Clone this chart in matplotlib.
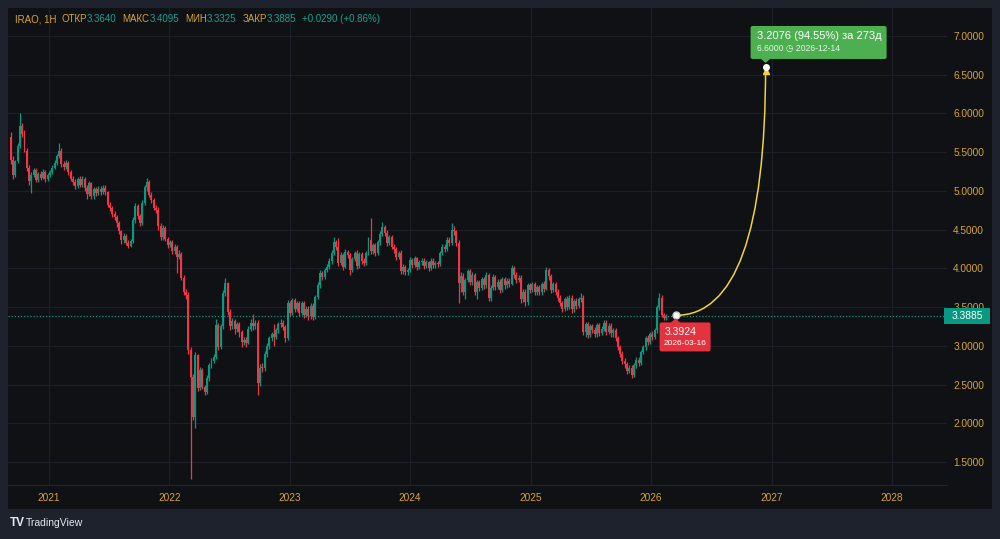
import numpy as np
import pandas as pd
import matplotlib
matplotlib.use("Agg")
import matplotlib.pyplot as plt
import matplotlib.dates as mdates
import matplotlib.transforms as mtransforms
from matplotlib.patches import Rectangle, Polygon, PathPatch, FancyBboxPatch
from matplotlib.path import Path

plt.rcParams['font.family'] = ['Liberation Sans', 'DejaVu Sans']

# ---------------- data ----------------
ticker = "IRAO, 1H"
first_week = "2020-09-07"
first_open = 5.70
closes = [
    5.40, 5.20, 5.38, 5.58, 5.84, 5.74, 5.52, 5.30, 5.13, 5.21,
    5.27, 5.14, 5.22, 5.17, 5.25, 5.15, 5.20, 5.24, 5.30, 5.36,
    5.45, 5.52, 5.35, 5.31, 5.36, 5.24, 5.16, 5.12, 5.06, 5.15,
    5.08, 5.16, 5.04, 4.96, 5.10, 4.93, 5.02, 4.97, 5.03, 4.98,
    5.04, 4.98, 4.82, 4.78, 4.70, 4.66, 4.58, 4.48, 4.36, 4.42,
    4.33, 4.29, 4.35, 4.62, 4.80, 4.68, 4.58, 4.85, 5.05, 5.12,
    4.95, 4.88, 4.78, 4.76, 4.55, 4.40, 4.52, 4.38, 4.30, 4.34,
    4.22, 4.28, 4.15, 4.18, 3.88, 3.70, 3.66, 2.95, 2.60, 2.08,
    2.88, 2.45, 2.69, 2.47, 2.40, 2.58, 2.75, 2.80, 2.86, 3.27,
    2.98, 3.25, 3.68, 3.81, 3.44, 3.26, 3.32, 3.22, 3.28, 3.18,
    3.05, 3.08, 3.04, 3.22, 3.30, 3.25, 3.30, 2.52, 2.72, 2.71,
    2.90, 3.00, 3.10, 3.15, 3.12, 3.20, 3.28, 3.30, 3.24, 3.10,
    3.55, 3.42, 3.59, 3.48, 3.55, 3.43, 3.55, 3.40, 3.48, 3.38,
    3.52, 3.37, 3.63, 3.78, 3.94, 3.89, 3.98, 4.02, 4.10, 4.20,
    4.34, 4.28, 4.07, 4.17, 4.02, 4.21, 4.17, 3.98, 4.12, 4.20,
    4.03, 4.18, 4.10, 4.07, 4.20, 4.37, 4.22, 4.30, 4.20, 4.34,
    4.45, 4.53, 4.46, 4.33, 4.40, 4.28, 4.25, 4.15, 4.20, 3.97,
    4.02, 3.95, 3.98, 4.11, 4.05, 4.13, 4.02, 4.08, 4.10, 4.03,
    4.08, 4.00, 4.10, 4.04, 4.07, 4.06, 4.20, 4.28, 4.25, 4.37,
    4.33, 4.50, 4.48, 4.33, 3.81, 3.90, 3.70, 3.85, 3.96, 3.83,
    3.92, 3.70, 3.82, 3.75, 3.86, 3.78, 3.92, 3.62, 3.75, 3.89,
    3.76, 3.83, 3.72, 3.86, 3.78, 3.84, 3.80, 4.00, 3.92, 3.85,
    3.88, 3.60, 3.70, 3.56, 3.78, 3.72, 3.80, 3.69, 3.76, 3.70,
    3.80, 3.74, 3.98, 3.90, 3.72, 3.80, 3.70, 3.62, 3.55, 3.48,
    3.60, 3.50, 3.62, 3.47, 3.58, 3.52, 3.60, 3.62, 3.18, 3.28,
    3.14, 3.25, 3.20, 3.15, 3.27, 3.17, 3.22, 3.30, 3.18, 3.26,
    3.16, 3.20, 3.10, 2.98, 2.90, 2.80, 2.76, 2.68, 2.72, 2.62,
    2.75, 2.82, 2.78, 2.92, 2.98, 3.10, 3.05, 3.15, 3.12, 3.20,
    3.50, 3.62, 3.40, 3.364, 3.3885]
highs = [
    5.76, 5.45, 5.40, 5.62, 6.00, 5.88, 5.78, 5.55, 5.33, 5.24,
    5.30, 5.29, 5.25, 5.26, 5.28, 5.27, 5.23, 5.27, 5.33, 5.40,
    5.48, 5.62, 5.56, 5.39, 5.40, 5.38, 5.27, 5.19, 5.15, 5.18,
    5.19, 5.19, 5.18, 5.07, 5.13, 5.12, 5.05, 5.05, 5.06, 5.06,
    5.07, 5.07, 5.00, 4.86, 4.80, 4.74, 4.69, 4.61, 4.50, 4.46,
    4.45, 4.37, 4.38, 4.66, 4.85, 4.83, 4.70, 4.88, 5.08, 5.17,
    5.14, 4.99, 4.91, 4.82, 4.79, 4.58, 4.56, 4.55, 4.41, 4.37,
    4.37, 4.31, 4.30, 4.24, 4.21, 3.92, 3.74, 3.69, 2.99, 2.64,
    2.92, 2.90, 2.73, 2.72, 2.50, 2.62, 2.78, 2.84, 2.90, 3.35,
    3.30, 3.28, 3.72, 3.88, 3.83, 3.48, 3.36, 3.35, 3.31, 3.31,
    3.21, 3.12, 3.11, 3.26, 3.34, 3.41, 3.33, 3.33, 2.76, 2.78,
    2.93, 3.04, 3.13, 3.18, 3.28, 3.23, 3.31, 3.35, 3.33, 3.27,
    3.59, 3.58, 3.62, 3.62, 3.58, 3.58, 3.58, 3.58, 3.52, 3.51,
    3.55, 3.55, 3.66, 3.82, 3.98, 3.97, 4.01, 4.06, 4.13, 4.24,
    4.40, 4.37, 4.39, 4.21, 4.20, 4.25, 4.24, 4.20, 4.15, 4.23,
    4.24, 4.21, 4.21, 4.14, 4.23, 4.40, 4.65, 4.33, 4.33, 4.37,
    4.48, 4.60, 4.56, 4.49, 4.43, 4.43, 4.32, 4.28, 4.23, 4.24,
    4.06, 4.05, 4.01, 4.15, 4.14, 4.16, 4.15, 4.11, 4.14, 4.13,
    4.11, 4.10, 4.13, 4.13, 4.10, 4.10, 4.23, 4.31, 4.31, 4.40,
    4.40, 4.58, 4.55, 4.50, 4.36, 3.95, 3.94, 3.88, 3.99, 3.99,
    3.95, 3.94, 3.85, 3.85, 3.89, 3.89, 3.95, 3.94, 3.78, 3.93,
    3.92, 3.86, 3.86, 3.89, 3.89, 3.87, 3.88, 4.04, 4.03, 3.95,
    3.91, 3.92, 3.74, 3.73, 3.81, 3.81, 3.83, 3.83, 3.79, 3.79,
    3.83, 3.84, 4.02, 4.00, 3.93, 3.83, 3.83, 3.73, 3.65, 3.58,
    3.63, 3.64, 3.65, 3.65, 3.61, 3.62, 3.63, 3.68, 3.65, 3.31,
    3.31, 3.28, 3.28, 3.24, 3.30, 3.30, 3.25, 3.33, 3.33, 3.29,
    3.29, 3.23, 3.23, 3.13, 3.01, 2.93, 2.84, 2.79, 2.75, 2.75,
    2.78, 2.86, 2.86, 2.95, 3.01, 3.13, 3.14, 3.18, 3.19, 3.23,
    3.53, 3.68, 3.65, 3.43, 3.4095]
lows = [
    5.35, 5.16, 5.18, 5.36, 5.55, 5.70, 5.50, 5.26, 5.08, 4.97,
    5.18, 5.11, 5.12, 5.14, 5.15, 5.12, 5.13, 5.18, 5.22, 5.28,
    5.33, 5.42, 5.31, 5.27, 5.28, 5.21, 5.13, 5.07, 5.02, 5.04,
    5.05, 5.05, 5.00, 4.90, 4.94, 4.89, 4.90, 4.94, 4.95, 4.95,
    4.96, 4.95, 4.79, 4.74, 4.66, 4.62, 4.54, 4.44, 4.32, 4.33,
    4.30, 4.26, 4.27, 4.33, 4.58, 4.64, 4.55, 4.56, 4.82, 5.00,
    4.92, 4.84, 4.75, 4.72, 4.50, 4.36, 4.37, 4.35, 4.26, 4.27,
    4.18, 4.19, 3.94, 4.12, 3.85, 3.66, 3.60, 2.90, 1.28, 2.04,
    1.94, 2.42, 2.43, 2.44, 2.36, 2.38, 2.55, 2.72, 2.78, 2.83,
    2.95, 2.96, 3.22, 3.64, 3.40, 3.20, 3.22, 3.15, 3.18, 3.12,
    2.99, 3.01, 2.98, 3.02, 3.19, 3.21, 3.22, 2.36, 2.48, 2.66,
    2.68, 2.86, 2.96, 3.06, 3.00, 3.09, 3.17, 3.24, 3.20, 3.05,
    3.08, 3.38, 3.40, 3.44, 3.45, 3.39, 3.40, 3.36, 3.37, 3.33,
    3.35, 3.33, 3.35, 3.60, 3.75, 3.85, 3.86, 3.95, 3.99, 4.06,
    4.17, 4.24, 4.03, 4.04, 3.98, 4.00, 4.13, 3.92, 3.95, 4.09,
    3.99, 4.00, 4.06, 4.03, 4.04, 4.17, 4.18, 4.19, 4.16, 4.17,
    4.30, 4.42, 4.42, 4.29, 4.30, 4.25, 4.20, 4.11, 4.12, 3.93,
    3.93, 3.91, 3.92, 3.95, 4.01, 4.02, 3.98, 3.99, 4.04, 3.99,
    4.00, 3.97, 3.98, 4.01, 4.01, 4.02, 4.03, 4.17, 4.21, 4.22,
    4.29, 4.30, 4.43, 4.29, 3.55, 3.70, 3.66, 3.60, 3.82, 3.79,
    3.79, 3.66, 3.60, 3.71, 3.72, 3.74, 3.75, 3.58, 3.58, 3.72,
    3.72, 3.73, 3.68, 3.70, 3.74, 3.75, 3.76, 3.78, 3.88, 3.81,
    3.82, 3.55, 3.56, 3.52, 3.53, 3.68, 3.69, 3.66, 3.66, 3.66,
    3.66, 3.70, 3.72, 3.85, 3.68, 3.69, 3.66, 3.58, 3.51, 3.44,
    3.45, 3.46, 3.47, 3.43, 3.44, 3.48, 3.49, 3.56, 3.14, 3.12,
    3.10, 3.11, 3.16, 3.11, 3.12, 3.13, 3.14, 3.19, 3.14, 3.15,
    3.12, 3.12, 3.06, 2.94, 2.86, 2.76, 2.72, 2.64, 2.65, 2.58,
    2.60, 2.71, 2.74, 2.75, 2.89, 2.95, 3.01, 3.02, 3.08, 3.09,
    3.17, 3.46, 3.37, 3.33, 3.3325]
opens = [first_open] + closes[:-1]

hdr_open, hdr_high, hdr_low, hdr_close = 3.3640, 3.4095, 3.3325, 3.3885
hdr_change, hdr_change_pct = 0.0290, 0.86
last_price = 3.3885

years = [2021, 2022, 2023, 2024, 2025, 2026, 2027, 2028]
price_ticks = [1.5, 2.0, 2.5, 3.0, 3.5, 4.0, 4.5, 5.0, 5.5, 6.0, 6.5, 7.0]

proj_start_date, proj_start_price = "2026-03-16", 3.3924
proj_end_date, proj_end_price = "2026-12-14", 6.6000
proj_change, proj_pct, proj_days = 3.2076, 94.55, 273

# ---------------- style ----------------
OUTER = '#1e222d'
PANEL = '#0f1115'
GRID = '#1c1f27'
GOLD = '#d6a43a'
TEAL = '#1fa08e'
UP = '#089981'
DOWN = '#f23645'
YELLOW = '#f2d33b'
W, H = 1000, 539

fig = plt.figure(figsize=(W / 100, H / 100), dpi=100, facecolor=OUTER)
fig.add_artist(Rectangle((8 / W, 1 - 509 / H), 984 / W, 501 / H, transform=fig.transFigure,
                         facecolor=PANEL, edgecolor='none', zorder=-5))

ax = fig.add_axes([8 / W, 1 - 485 / H, 939 / W, 477 / H], facecolor=PANEL)
for s in ax.spines.values():
    s.set_visible(False)
ax.spines['bottom'].set_visible(True)
ax.spines['bottom'].set_color('#23262e')

dates = pd.date_range(first_week, periods=len(closes), freq="7D")
x = mdates.date2num(dates)
o = np.array(opens)
c = np.array(closes)
up = c >= o
cols = np.where(up, UP, DOWN)
ax.vlines(x, lows, highs, colors=cols, linewidth=0.9, zorder=3)
ax.bar(x, np.maximum(np.abs(c - o), 0.012), bottom=np.minimum(o, c), width=6.0,
       color=cols, linewidth=0, zorder=4)

ax.set_xlim(mdates.date2num(pd.Timestamp("2020-08-30")), mdates.date2num(pd.Timestamp("2028-06-16")))
ax.set_ylim(1.2033, 7.3615)

ax.set_xticks([mdates.date2num(pd.Timestamp(f"{y}-01-01")) for y in years])
ax.set_xticklabels([str(y) for y in years])
ax.set_yticks(price_ticks)
ax.set_yticklabels([f"{p:.4f}" for p in price_ticks])
ax.yaxis.tick_right()
ax.tick_params(axis='x', length=0, pad=5.5, labelcolor=GOLD, labelsize=7.3)
ax.tick_params(axis='y', length=0, pad=4.5, labelcolor=GOLD, labelsize=7.3)
ax.grid(True, color=GRID, linewidth=0.9, zorder=0)
ax.set_axisbelow(True)

# current price line
ax.axhline(last_price, color=UP, linewidth=0.9, linestyle=(0, (1, 1.5)), zorder=2)

# projection curve
sx = mdates.date2num(pd.Timestamp(proj_start_date))
ex = mdates.date2num(pd.Timestamp(proj_end_date))
curve = Path([(sx, proj_start_price), (ex, proj_start_price), (ex, proj_end_price)],
             [Path.MOVETO, Path.CURVE3, Path.CURVE3])
ax.add_patch(PathPatch(curve, fill=False, edgecolor=YELLOW, linewidth=1.1, zorder=6))
ax.plot([ex], [proj_end_price], marker='^', color=YELLOW, markersize=5, zorder=7,
        transform=mtransforms.offset_copy(ax.transData, fig, y=-4, units='dots'))
ax.plot([ex], [proj_end_price], marker='o', color='white', markersize=4, zorder=8)
ax.plot([sx], [proj_start_price], marker='o', markerfacecolor='white',
        markeredgecolor='#cccccc', markersize=5, zorder=8)

ident = mtransforms.IdentityTransform()
sxd, syd = ax.transData.transform((sx, proj_start_price))
exd, eyd = ax.transData.transform((ex, proj_end_price))

# green label box
GREEN = '#4caf50'
fig.add_artist(FancyBboxPatch((exd - 15, eyd + 8), 136, 33,
                              boxstyle="round,pad=0,rounding_size=2",
                              facecolor=GREEN, edgecolor='none', transform=ident, zorder=10))
fig.add_artist(Polygon([(exd - 5, eyd + 8.5), (exd + 5, eyd + 8.5), (exd, eyd + 4)],
                       closed=True, facecolor=GREEN, edgecolor='none', transform=ident, zorder=10))
fig.text(exd - 9, eyd + 31, f"{proj_change:.4f} ({proj_pct:.2f}%) за {proj_days}д",
         color='white', fontsize=8, va='center', ha='left', transform=ident, zorder=11)
fig.text(exd - 9, eyd + 18, f"{proj_end_price:.4f} ◷ {proj_end_date}",
         color='#e8f5e9', fontsize=6.2, va='center', ha='left', transform=ident, zorder=11)

# red label box
RED = '#e5323f'
fig.add_artist(FancyBboxPatch((sxd - 16, syd - 36), 51, 29,
                              boxstyle="round,pad=0,rounding_size=2",
                              facecolor=RED, edgecolor='none', transform=ident, zorder=10))
fig.add_artist(Polygon([(sxd - 5, syd - 7.5), (sxd + 5, syd - 7.5), (sxd, syd - 3)],
                       closed=True, facecolor=RED, edgecolor='none', transform=ident, zorder=10))
fig.text(sxd - 11, syd - 17, f"{proj_start_price:.4f}", color='white', fontsize=7.5,
         va='center', ha='left', transform=ident, zorder=11)
fig.text(sxd - 12, syd - 28, proj_start_date, color='white', fontsize=6,
         va='center', ha='left', transform=ident, zorder=11)

# last price box on axis (covers part of the 3.5000 label, as in the original)
_, lpy = ax.transData.transform((x[-1], last_price))
fig.add_artist(Rectangle((944, lpy - 8), 46, 16, facecolor=UP, edgecolor='none',
                         transform=ident, zorder=10))
fig.text(967, lpy, f"{last_price:.4f}", color='white', fontsize=7.3, va='center', ha='center',
         transform=ident, zorder=11)

# header
renderer = fig.canvas.get_renderer()
parts = [(ticker, GOLD, 5), ("ОТКР", GOLD, 0), (f"{hdr_open:.4f}", TEAL, 6),
         ("МАКС", GOLD, 0), (f"{hdr_high:.4f}", TEAL, 6),
         ("МИН", GOLD, 0), (f"{hdr_low:.4f}", TEAL, 6),
         ("ЗАКР", GOLD, 0), (f"{hdr_close:.4f}", TEAL, 6),
         (f"+{hdr_change:.4f} (+{hdr_change_pct:.2f}%)", TEAL, 0)]
px = 15
for s, col, gap in parts:
    t = fig.text(px, H - 19, s, color=col, fontsize=7.0, va='center', ha='left', transform=ident)
    bb = t.get_window_extent(renderer)
    px = bb.x1 + gap

# TradingView logo
fig.text(10, H - 523, "TV", color='#e6e8ee', fontsize=8.5, fontweight='bold',
         va='center', ha='left', transform=ident)
fig.text(26, H - 523, "TradingView", color='#e6e8ee', fontsize=7.5,
         va='center', ha='left', transform=ident)

fig.savefig("out.png", dpi=100, facecolor=OUTER)
